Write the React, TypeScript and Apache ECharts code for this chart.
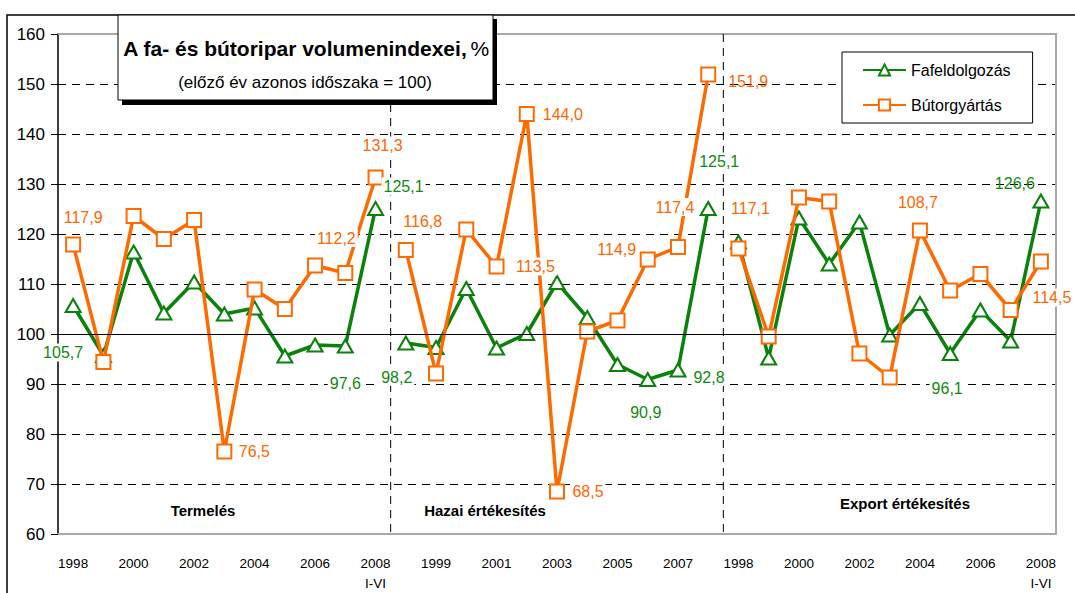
import React, { useEffect, useRef } from 'react';
import * as echarts from 'echarts';

// ---- data ----
const years = ['1998', '1999', '2000', '2001', '2002', '2003', '2004', '2005', '2006', '2007', '2008\nI-VI'];
const categories = [...years, ...years, ...years];
const sectionNames = ['Termelés', 'Hazai értékesítés', 'Export értékesítés'];
const seriesNames = ['Fafeldolgozás', 'Bútorgyártás'];

const termelesFa = [105.7, 95.7, 116.4, 104.2, 110.4, 104.0, 105.2, 95.6, 97.8, 97.6, 125.1];
const termelesBut = [117.9, 94.4, 123.6, 119.0, 122.8, 76.5, 108.9, 105.0, 113.7, 112.2, 131.3];
const hazaiFa = [98.2, 97.3, 109.1, 97.2, 100.1, 110.3, 103.3, 93.9, 90.9, 92.8, 125.1];
const hazaiBut = [116.8, 92.1, 120.9, 113.5, 144.0, 68.5, 100.5, 102.7, 114.9, 117.4, 151.9];
const exportFa = [118.4, 95.2, 123.2, 114.0, 122.4, 99.8, 106.1, 96.1, 104.8, 98.6, 126.6];
const exportBut = [117.1, 99.5, 127.3, 126.5, 96.1, 91.3, 120.7, 108.7, 112.0, 104.8, 114.5];

// printed value labels (global category index -> text)
const faLabelText: Record<number, string> = {
  0: '105,7', 9: '97,6', 10: '125,1', 11: '98,2', 19: '90,9', 20: '92,8', 21: '125,1', 29: '96,1', 32: '126,6',
};
const butLabelText: Record<number, string> = {
  0: '117,9', 5: '76,5', 9: '112,2', 10: '131,3', 11: '116,8', 14: '113,5', 15: '144,0', 16: '68,5',
  19: '114,9', 20: '117,4', 21: '151,9', 22: '117,1', 28: '108,7', 32: '114,5',
};

const yMin = 60;
const yMax = 160;
const yStep = 10;

// ---- style / placement ----
const FONT = "'Liberation Sans', Arial, sans-serif";
const GREEN = '#0b820b';
const GREEN_TXT = '#0f8a0f';
const ORANGE = '#ff6a00';
const ORANGE_TXT = '#ff6600';
const GRID = { left: 58, top: 34, width: 998, height: 500 };

// [dx, dy, whiteBackground]
const faLabelPlace: Record<number, [number, number, boolean]> = {
  0: [-10, 47, true], 9: [0, 37, true], 10: [28, -22, true], 11: [-9, 34, true], 19: [-2, 33, true],
  20: [31, 7, true], 21: [11, -47, true], 29: [-3, 35, true], 32: [-26, -18, false],
};
const butLabelPlace: Record<number, [number, number, boolean]> = {
  0: [10, -27, true], 5: [30, 0, true], 9: [-9, -35, true], 10: [7, -32, true], 11: [17, -29, true],
  14: [39, 0, true], 15: [36, 0, true], 16: [31, 0, true], 19: [-31, -10, true], 20: [-3, -40, true],
  21: [40, 7, false], 22: [12, -40, true], 28: [-2, -28, true], 32: [11, 36, true],
};

function spread(groupIndex: number, values: number[]): (number | string)[] {
  const out: (number | string)[] = categories.map(() => '-');
  values.forEach((v, i) => {
    out[groupIndex * years.length + i] = v;
  });
  return out;
}

function lineSeries(name: string, groupIndex: number, values: number[], kind: 'fa' | 'but') {
  const color = kind === 'fa' ? GREEN : ORANGE;
  return {
    type: 'line',
    name,
    data: spread(groupIndex, values),
    connectNulls: false,
    symbol: kind === 'fa' ? 'triangle' : 'rect',
    symbolSize: kind === 'fa' ? [15, 13] : 14,
    z: kind === 'fa' ? 2 : 3,
    lineStyle: { color, width: 3.5 },
    itemStyle: { color: '#fff', borderColor: color, borderWidth: 2 },
    emphasis: { disabled: true },
    silent: true,
  };
}

function labelSeries(
  all: number[],
  texts: Record<number, string>,
  place: Record<number, [number, number, boolean]>,
  color: string
) {
  return {
    type: 'scatter',
    name: 'labels-' + color,
    z: 10,
    symbol: 'circle',
    symbolSize: 0,
    itemStyle: { color },
    silent: true,
    emphasis: { disabled: true },
    data: all.map((v, i) => {
      if (texts[i] === undefined) return '-';
      const p = place[i] || [0, -20, true];
      return {
        value: v,
        label: {
          show: true,
          position: 'inside',
          formatter: texts[i],
          offset: [p[0], p[1]],
          color,
          opacity: 1,
          fontSize: 16,
          fontFamily: FONT,
          align: 'center',
          verticalAlign: 'middle',
          backgroundColor: p[2] ? '#fff' : 'transparent',
          padding: [1, 2],
        },
      };
    }),
  };
}

export default function App() {
  const ref = useRef<HTMLDivElement>(null);

  useEffect(() => {
    if (!ref.current) return;
    const chart = echarts.init(ref.current, undefined, { renderer: 'svg' });

    const allFa = [...termelesFa, ...hazaiFa, ...exportFa];
    const allBut = [...termelesBut, ...hazaiBut, ...exportBut];
    const n = categories.length;
    const catW = GRID.width / n;
    const gRight = GRID.left + GRID.width;
    const gBottom = GRID.top + GRID.height;
    const sep1 = GRID.left + catW * years.length;
    const sep2 = GRID.left + catW * years.length * 2;

    const sectionPos = [
      [203, 510],
      [485, 510],
      [905, 503],
    ];

    chart.setOption({
      animation: false,
      textStyle: { fontFamily: FONT },
      grid: { left: GRID.left, top: GRID.top, width: GRID.width, height: GRID.height },
      legend: {
        data: seriesNames,
        orient: 'vertical',
        left: 842,
        top: 52,
        padding: [10, 22, 10, 20],
        itemGap: 19,
        itemWidth: 43,
        itemHeight: 14,
        borderColor: '#000',
        borderWidth: 1,
        backgroundColor: '#fff',
        textStyle: { fontSize: 16, color: '#000', fontFamily: FONT },
        selectedMode: false,
        z: 6,
      },
      xAxis: {
        type: 'category',
        data: categories,
        boundaryGap: true,
        axisLine: { show: true, lineStyle: { color: '#a8a8a8', width: 2 } },
        axisTick: { show: false },
        axisLabel: {
          interval: 1,
          color: '#000',
          fontSize: 13.5,
          lineHeight: 20,
          margin: 19,
          fontFamily: FONT,
        },
        splitLine: { show: false },
      },
      yAxis: {
        type: 'value',
        min: yMin,
        max: yMax,
        interval: yStep,
        axisLine: { show: true, lineStyle: { color: '#000', width: 1.5 } },
        axisTick: { show: true, length: 7, lineStyle: { color: '#000', width: 1 } },
        axisLabel: { color: '#000', fontSize: 17, margin: 13, fontFamily: FONT },
        splitLine: { show: true, lineStyle: { color: '#000', width: 1, type: [8, 6] } },
      },
      graphic: [
        {
          type: 'polyline',
          z: 1,
          shape: { points: [[GRID.left, GRID.top], [gRight, GRID.top], [gRight, gBottom]] },
          style: { stroke: '#a8a8a8', lineWidth: 2, fill: 'none' },
          silent: true,
        },
        {
          type: 'line',
          z: 1,
          shape: { x1: sep1, y1: GRID.top, x2: sep1, y2: gBottom },
          style: { stroke: '#000', lineWidth: 1, lineDash: [8, 6] },
          silent: true,
        },
        {
          type: 'line',
          z: 1,
          shape: { x1: sep2, y1: GRID.top, x2: sep2, y2: gBottom },
          style: { stroke: '#000', lineWidth: 1, lineDash: [8, 6] },
          silent: true,
        },
        {
          type: 'polyline',
          z: 1,
          shape: { points: [[7, 593], [7, 15], [1075, 15]] },
          style: { stroke: '#000', lineWidth: 1.5, fill: 'none' },
          silent: true,
        },
        ...sectionNames.map((s, i) => ({
          type: 'text',
          z: 5,
          x: sectionPos[i][0],
          y: sectionPos[i][1],
          style: {
            text: s,
            fill: '#000',
            font: `bold 15px ${FONT}`,
            align: 'center',
            verticalAlign: 'middle',
          },
          silent: true,
        })),
        {
          type: 'rect',
          z: 20,
          shape: { x: 122, y: 19, width: 375, height: 86 },
          style: { fill: '#000' },
          silent: true,
        },
        {
          type: 'rect',
          z: 21,
          shape: { x: 118, y: 15, width: 375, height: 85 },
          style: { fill: '#fff', stroke: '#000', lineWidth: 1 },
          silent: true,
        },
        {
          type: 'text',
          z: 22,
          x: 306,
          y: 48,
          style: {
            text: '{b|A fa- és bútoripar volumenindexei,} {n|%}',
            align: 'center',
            verticalAlign: 'middle',
            rich: {
              b: { fontWeight: 'bold', fontSize: 21, fontFamily: FONT, fill: '#000' },
              n: { fontSize: 21, fontFamily: FONT, fill: '#000' },
            },
          },
          silent: true,
        },
        {
          type: 'text',
          z: 22,
          x: 305,
          y: 82,
          style: {
            text: '(előző év azonos időszaka = 100)',
            fill: '#000',
            font: `17px ${FONT}`,
            align: 'center',
            verticalAlign: 'middle',
          },
          silent: true,
        },
      ],
      series: [
        {
          type: 'line',
          name: 'baseline',
          data: [],
          z: 1,
          silent: true,
          markLine: {
            silent: true,
            symbol: 'none',
            label: { show: false },
            lineStyle: { color: '#000', width: 1.2, type: 'solid' },
            data: [{ yAxis: 100 }],
          },
        },
        lineSeries(seriesNames[0], 0, termelesFa, 'fa'),
        lineSeries(seriesNames[0], 1, hazaiFa, 'fa'),
        lineSeries(seriesNames[0], 2, exportFa, 'fa'),
        lineSeries(seriesNames[1], 0, termelesBut, 'but'),
        lineSeries(seriesNames[1], 1, hazaiBut, 'but'),
        lineSeries(seriesNames[1], 2, exportBut, 'but'),
        labelSeries(allFa, faLabelText, faLabelPlace, GREEN_TXT),
        labelSeries(allBut, butLabelText, butLabelPlace, ORANGE_TXT),
      ],
    });

    return () => chart.dispose();
  }, []);

  return (
    <div
      ref={ref}
      style={{ position: 'absolute', left: 0, top: 0, width: 1075, height: 593, background: '#fff' }}
    />
  );
}
